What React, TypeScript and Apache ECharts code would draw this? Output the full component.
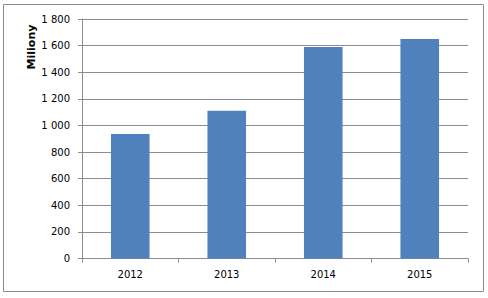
import React, { useEffect, useRef } from "react";
import * as echarts from "echarts";

const categories: string[] = ["2012", "2013", "2014", "2015"];
const values: number[] = [935, 1110, 1590, 1650];
const yAxisName = "Miliony";

function fmt(v: number): string {
  const s = String(Math.round(v));
  return s.replace(/\B(?=(\d{3})+(?!\d))/g, " ");
}

export default function App() {
  const ref = useRef<HTMLDivElement>(null);
  useEffect(() => {
    if (!ref.current) return;
    const chart = echarts.init(ref.current, null, { renderer: "svg" });
    chart.setOption({
      animation: false,
      backgroundColor: "#ffffff",
      textStyle: { fontFamily: "DejaVu Sans" },
      grid: { left: 82, right: 20, top: 19, bottom: 39.5, containLabel: false },
      graphic: [
        {
          type: "rect",
          shape: { x: 3.5, y: 4.5, width: 480, height: 287 },
          style: { fill: "none", stroke: "#8c8c8c", lineWidth: 1 },
          silent: true,
        },
        {
          type: "text",
          x: 31,
          y: 47,
          rotation: Math.PI / 2,
          style: {
            text: yAxisName,
            fontFamily: "DejaVu Sans",
            fontSize: 11,
            fontWeight: "bold",
            fill: "#000",
            align: "center",
            verticalAlign: "middle",
          },
        },
      ],
      xAxis: {
        type: "category",
        data: categories,
        boundaryGap: true,
        axisLine: { lineStyle: { color: "#8c8c8c", width: 1 } },
        axisTick: { show: true, length: 4, lineStyle: { color: "#8c8c8c" } },
        axisLabel: { color: "#000", fontSize: 10, margin: 11, fontFamily: "DejaVu Sans" },
        splitLine: { show: false },
      },
      yAxis: {
        type: "value",
        min: 0,
        max: 1800,
        interval: 200,
        axisLine: { show: true, lineStyle: { color: "#8c8c8c", width: 1 } },
        axisTick: { show: true, length: 4, lineStyle: { color: "#8c8c8c" } },
        axisLabel: {
          color: "#000",
          fontSize: 10,
          margin: 12,
          fontFamily: "DejaVu Sans",
          formatter: (v: number) => fmt(v),
        },
        splitLine: { show: true, lineStyle: { color: "#8c8c8c", width: 1 } },
      },
      series: [
        {
          type: "bar",
          data: values,
          barWidth: "40%",
          itemStyle: { color: "#4f81bd" },
        },
      ],
    });
    return () => chart.dispose();
  }, []);
  return (
    <div
      ref={ref}
      style={{ position: "fixed", left: 0, top: 0, width: 488, height: 298 }}
    />
  );
}
